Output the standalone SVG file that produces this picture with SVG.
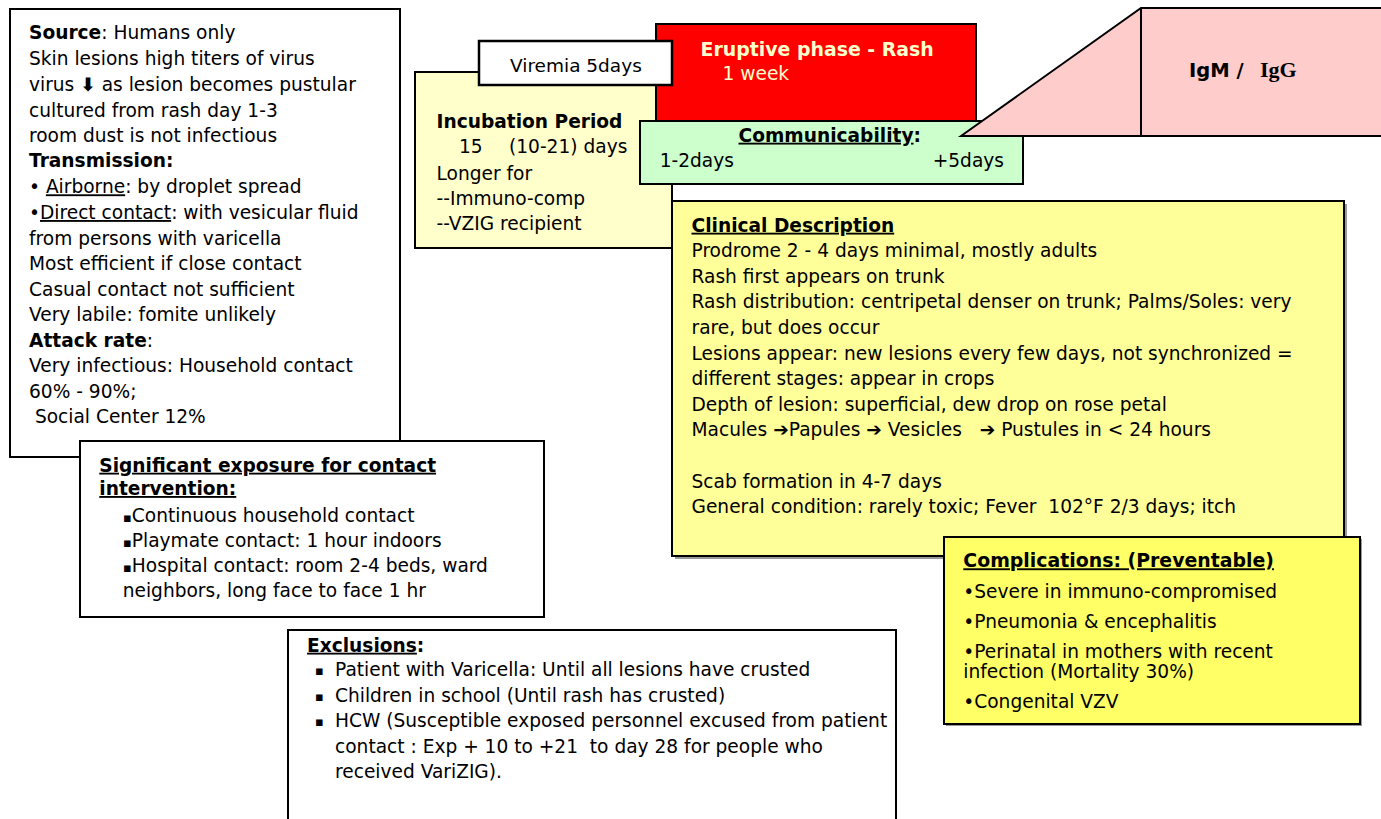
<svg xmlns="http://www.w3.org/2000/svg" width="1381" height="819" viewBox="0 0 1381 819">
<style>
text{font-family:"DejaVu Sans","Liberation Sans",sans-serif;font-size:18.6px;fill:#000;white-space:pre}
.b{font-weight:bold}
.u{text-decoration:underline}
.box{stroke:#000;stroke-width:2}
.sh{fill:#9a9a9a}
.lt{fill:#FFFFCC}
.sq{font-size:13px}
.ser{font-family:"Liberation Serif","Times New Roman",serif;font-weight:bold;font-size:22px}
</style>
<g id="incubation">
<rect class="box" x="415" y="72" width="257" height="176" fill="#FFFFCC"/>
<text class="b" x="436.5" y="128.3">Incubation Period</text>
<text x="459" y="153.3">15</text>
<text x="509" y="153.3">(10-21) days</text>
<text x="436.5" y="180">Longer for</text>
<text x="436.5" y="205">--Immuno-comp</text>
<text x="436.5" y="230">--VZIG recipient</text>
</g>
<g id="eruptive">
<rect class="box" x="656" y="24" width="320" height="100" fill="#FF0000"/>
<text class="b lt" x="700.6" y="56" style="font-size:18.9px">Eruptive phase - Rash</text>
<text class="lt" x="722.5" y="80">1 week</text>
</g>
<g id="viremia">
<rect x="479" y="41" width="193" height="44" fill="#fff" stroke="#000" stroke-width="2.5"/>
<text x="510" y="71.7" style="font-size:18.5px">Viremia 5days</text>
</g>
<g id="communicability">
<rect class="box" x="640" y="121" width="383" height="63" fill="#CCFFCC"/>
<text class="b" x="738.5" y="141.7"><tspan class="u">Communicability</tspan>:</text>
<text x="659.7" y="166.7">1-2days</text>
<text x="1004" y="166.7" text-anchor="end">+5days</text>
</g>
<g id="igm-igg">
<path class="box" d="M961,136 L1141,8 L1390,8 L1390,136 Z" fill="#FFCCCC"/>
<line class="box" x1="1141" y1="8" x2="1141" y2="136"/>
<text x="1189" y="76.7"><tspan class="b" style="font-size:19.5px">IgM /</tspan><tspan class="ser" x="1260">IgG</tspan></text>
</g>
<g id="clinical">
<rect class="sh" x="675" y="204" width="672" height="355"/>
<rect class="box" x="672" y="201" width="672" height="355" fill="#FFFF99"/>
<text class="b u" x="691.5" y="231.7">Clinical Description</text>
<text x="691.5" y="256.7">Prodrome 2 - 4 days minimal, mostly adults</text>
<text x="691.5" y="282.7">Rash first appears on trunk</text>
<text x="691.5" y="308">Rash distribution: centripetal denser on trunk; Palms/Soles: very</text>
<text x="691.5" y="333.5">rare, but does occur</text>
<text x="691.5" y="359.5">Lesions appear: new lesions every few days, not synchronized =</text>
<text x="691.5" y="385">different stages: appear in crops</text>
<text x="691.5" y="410.7">Depth of lesion: superficial, dew drop on rose petal</text>
<text x="691.5" y="436">Macules <tspan class="b">➔</tspan>Papules <tspan class="b">➔</tspan> Vesicles   <tspan class="b">➔</tspan> Pustules in &lt; 24 hours</text>
<text x="691.5" y="487.7">Scab formation in 4-7 days</text>
<text x="691.5" y="512.7">General condition: rarely toxic; Fever  102°F 2/3 days; itch</text>
</g>
<g id="source">
<rect class="box" x="10" y="9" width="390" height="448" fill="#fff"/>
<text x="29" y="39.3"><tspan class="b">Source</tspan>: Humans only</text>
<text x="29" y="65">Skin lesions high titers of virus</text>
<text x="29" y="90.7">virus <tspan class="b">⬇</tspan> as lesion becomes pustular</text>
<text x="29" y="116.7">cultured from rash day 1-3</text>
<text x="29" y="141.7">room dust is not infectious</text>
<text class="b" x="29" y="167.3">Transmission:</text>
<text x="29" y="193.3">• <tspan class="u">Airborne</tspan>: by droplet spread</text>
<text x="29" y="219">•<tspan class="u">Direct contact</tspan>: with vesicular fluid</text>
<text x="29" y="245">from persons with varicella</text>
<text x="29" y="270">Most efficient if close contact</text>
<text x="29" y="295.7">Casual contact not sufficient</text>
<text x="29" y="320.7">Very labile: fomite unlikely</text>
<text x="29" y="346.7"><tspan class="b">Attack rate</tspan>:</text>
<text x="29" y="372.3">Very infectious: Household contact</text>
<text x="29" y="397.7">60% - 90%;</text>
<text x="29" y="423.3"> Social Center 12%</text>
</g>
<g id="significant-exposure">
<rect class="box" x="80" y="441" width="464" height="176" fill="#fff"/>
<text class="b u" x="99.3" y="471.7">Significant exposure for contact</text>
<text class="b u" x="99.3" y="495">intervention:</text>
<text x="123" y="521.7"><tspan class="sq">▪</tspan>Continuous household contact</text>
<text x="123" y="546.7"><tspan class="sq">▪</tspan>Playmate contact: 1 hour indoors</text>
<text x="123" y="571.7"><tspan class="sq">▪</tspan>Hospital contact: room 2-4 beds, ward</text>
<text x="122.7" y="596.7">neighbors, long face to face 1 hr</text>
</g>
<g id="complications">
<rect class="sh" x="946" y="539" width="416" height="187"/>
<rect class="box" x="944" y="537" width="416" height="187" fill="#FFFF66"/>
<text class="b u" x="963.3" y="567.3" style="font-size:18.9px">Complications: (Preventable)</text>
<text x="963.3" y="598.3">•Severe in immuno-compromised</text>
<text x="963.3" y="628.3">•Pneumonia &amp; encephalitis</text>
<text x="963.3" y="658">•Perinatal in mothers with recent</text>
<text x="963.3" y="677.5">infection (Mortality 30%)</text>
<text x="963.3" y="708.3">•Congenital VZV</text>
</g>
<g id="exclusions">
<rect class="box" x="288" y="630" width="608" height="200" fill="#fff"/>
<text class="b" x="307" y="651.7"><tspan class="u">Exclusions</tspan>:</text>
<text class="sq" x="315" y="675">▪</text>
<text x="335" y="676">Patient with Varicella: Until all lesions have crusted</text>
<text class="sq" x="315" y="700.5">▪</text>
<text x="335" y="701.5">Children in school (Until rash has crusted)</text>
<text class="sq" x="315" y="726">▪</text>
<text x="335" y="727">HCW (Susceptible exposed personnel excused from patient</text>
<text x="335" y="752.5">contact : Exp + 10 to +21  to day 28 for people who</text>
<text x="335" y="778">received VariZIG).</text>
</g>
<g id="connectors"></g>
</svg>
